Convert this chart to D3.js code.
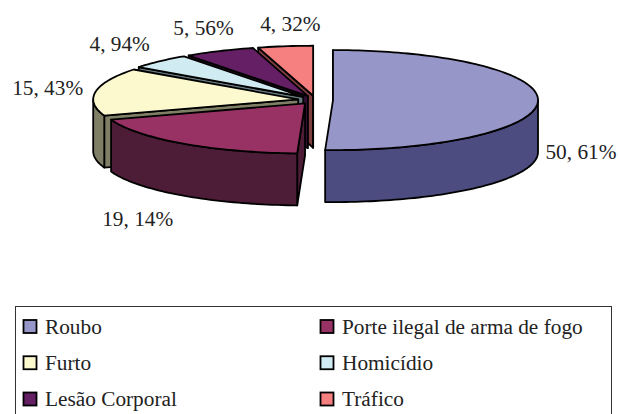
<!DOCTYPE html>
<html>
<head>
<meta charset="utf-8">
<script src="https://cdn.jsdelivr.net/npm/d3@7"></script>
<style>
  html, body { margin: 0; background: #fff; }
  text { font-family: "Liberation Serif", serif; fill: #222; }
</style>
</head>
<body>
<div id="chart"></div>
<script>
// values
const categories = ['Roubo', 'Porte ilegal de arma de fogo', 'Furto', 'Homicídio', 'Lesão Corporal', 'Tráfico'];
const percents = [50.61, 19.14, 15.43, 4.94, 5.56, 4.32];
const valueLabels = ['50, 61%', '19, 14%', '15, 43%', '4, 94%', '5, 56%', '4, 32%'];
const topColors = ['#9696c8', '#983264', '#fbf9cd', '#d0ecf2', '#652065', '#f67f80'];
const sideColors = ['#4c4c80', '#4d1c36', '#7f7f66', '#66797f', '#331033', '#7f3f40'];

const w = 618, h = 414;
const depth = 52, explode = 17.5;

// plan coordinates (-1..1) to pixels, tilted pie so y is squashed
const x = d3.scaleLinear().domain([-1, 1]).range([110.5, 520.5]);
const y = d3.scaleLinear().domain([-1, 1]).range([150, 50]);

const pie = d3.pie().value(d => d).sort(null);
const slices = pie(percents).map((d, i) => {
  const mid = (d.startAngle + d.endAngle) / 2;
  const off = explode / 205;
  return {
    i,
    start: d.startAngle,
    end: d.endAngle,
    mid,
    ox: off * Math.sin(mid),
    oy: off * Math.cos(mid)
  };
});

const planPoint = (s, r, a) => [x(s.ox + r * Math.sin(a)), y(s.oy + r * Math.cos(a))];
const down = p => [p[0], p[1] + depth];
const line = d3.line();

function rimPoints(s, a0, a1) {
  const n = Math.max(2, Math.ceil((a1 - a0) * 40));
  return d3.range(n + 1).map(k => planPoint(s, 1, a0 + (a1 - a0) * k / n));
}

const svg = d3.select('#chart').append('svg')
  .attr('width', w)
  .attr('height', h)
  .style('display', 'block');

const pieG = svg.append('g')
  .attr('stroke', '#000')
  .attr('stroke-width', 1.8)
  .attr('stroke-linejoin', 'round');

// back to front: the big slice stands apart, others go from the far one forward
const drawOrder = [5, 4, 3, 2, 1, 0];

drawOrder.forEach(idx => {
  const s = slices[idx];
  const g = pieG.append('g');
  const apex = planPoint(s, 0, 0);

  // cut faces, only the ones turned to the viewer
  [[s.start, Math.cos(s.start + Math.PI / 2) * -1], [s.end, Math.cos(s.end + Math.PI / 2)]].forEach(([a, facing]) => {
    if (facing >= 0) return;
    const rim = planPoint(s, 1, a);
    g.append('path')
      .attr('d', line([apex, rim, down(rim), down(apex)]) + 'Z')
      .attr('fill', sideColors[idx]);
  });

  // outer wall, front half only
  const a0 = Math.max(s.start, Math.PI / 2);
  const a1 = Math.min(s.end, Math.PI * 1.5);
  if (a1 > a0) {
    const rim = rimPoints(s, a0, a1);
    g.append('path')
      .attr('d', line(rim.concat(rim.map(down).reverse())) + 'Z')
      .attr('fill', sideColors[idx]);
  }

  // top
  g.append('path')
    .attr('d', line([apex].concat(rimPoints(s, s.start, s.end))) + 'Z')
    .attr('fill', topColors[idx]);
});

// data labels, nudged from the rim point at the middle of each slice
const labelNudge = [[43, 50], [-45, 75], [-48, -4], [-40, -18], [-16, -24], [5, -23]];

svg.append('g').selectAll('text')
  .data(slices)
  .enter()
  .append('text')
  .attr('transform', d => {
    const p = planPoint(d, 1, d.mid);
    return 'translate(' + (p[0] + labelNudge[d.i][0]) + ',' + (p[1] + labelNudge[d.i][1]) + ')';
  })
  .attr('text-anchor', 'middle')
  .attr('dy', '.35em')
  .style('font-size', '21.3px')
  .text(d => valueLabels[d.i]);

// legend, its frame runs off the bottom of the picture
svg.append('rect')
  .attr('x', 15.5)
  .attr('y', 306.5)
  .attr('width', 596)
  .attr('height', 130)
  .attr('fill', '#fff')
  .attr('stroke', '#333')
  .attr('stroke-width', 1);

const col = d3.scalePoint().domain([0, 1]).range([23, 320]);
const row = d3.scalePoint().domain([0, 1, 2]).range([326.5, 399]);

const legend = svg.append('g').selectAll('g')
  .data(categories)
  .enter()
  .append('g')
  .attr('transform', (d, i) => 'translate(' + col(i % 2) + ',' + row(Math.floor(i / 2)) + ')');

legend.append('rect')
  .attr('x', 0.5)
  .attr('y', -6.5)
  .attr('width', 13)
  .attr('height', 13)
  .attr('fill', (d, i) => topColors[i])
  .attr('stroke', '#000')
  .attr('stroke-width', 1.8);

legend.append('text')
  .attr('x', 22)
  .attr('dy', '.33em')
  .style('font-size', '21.3px')
  .text(d => d);
</script>
</body>
</html>
